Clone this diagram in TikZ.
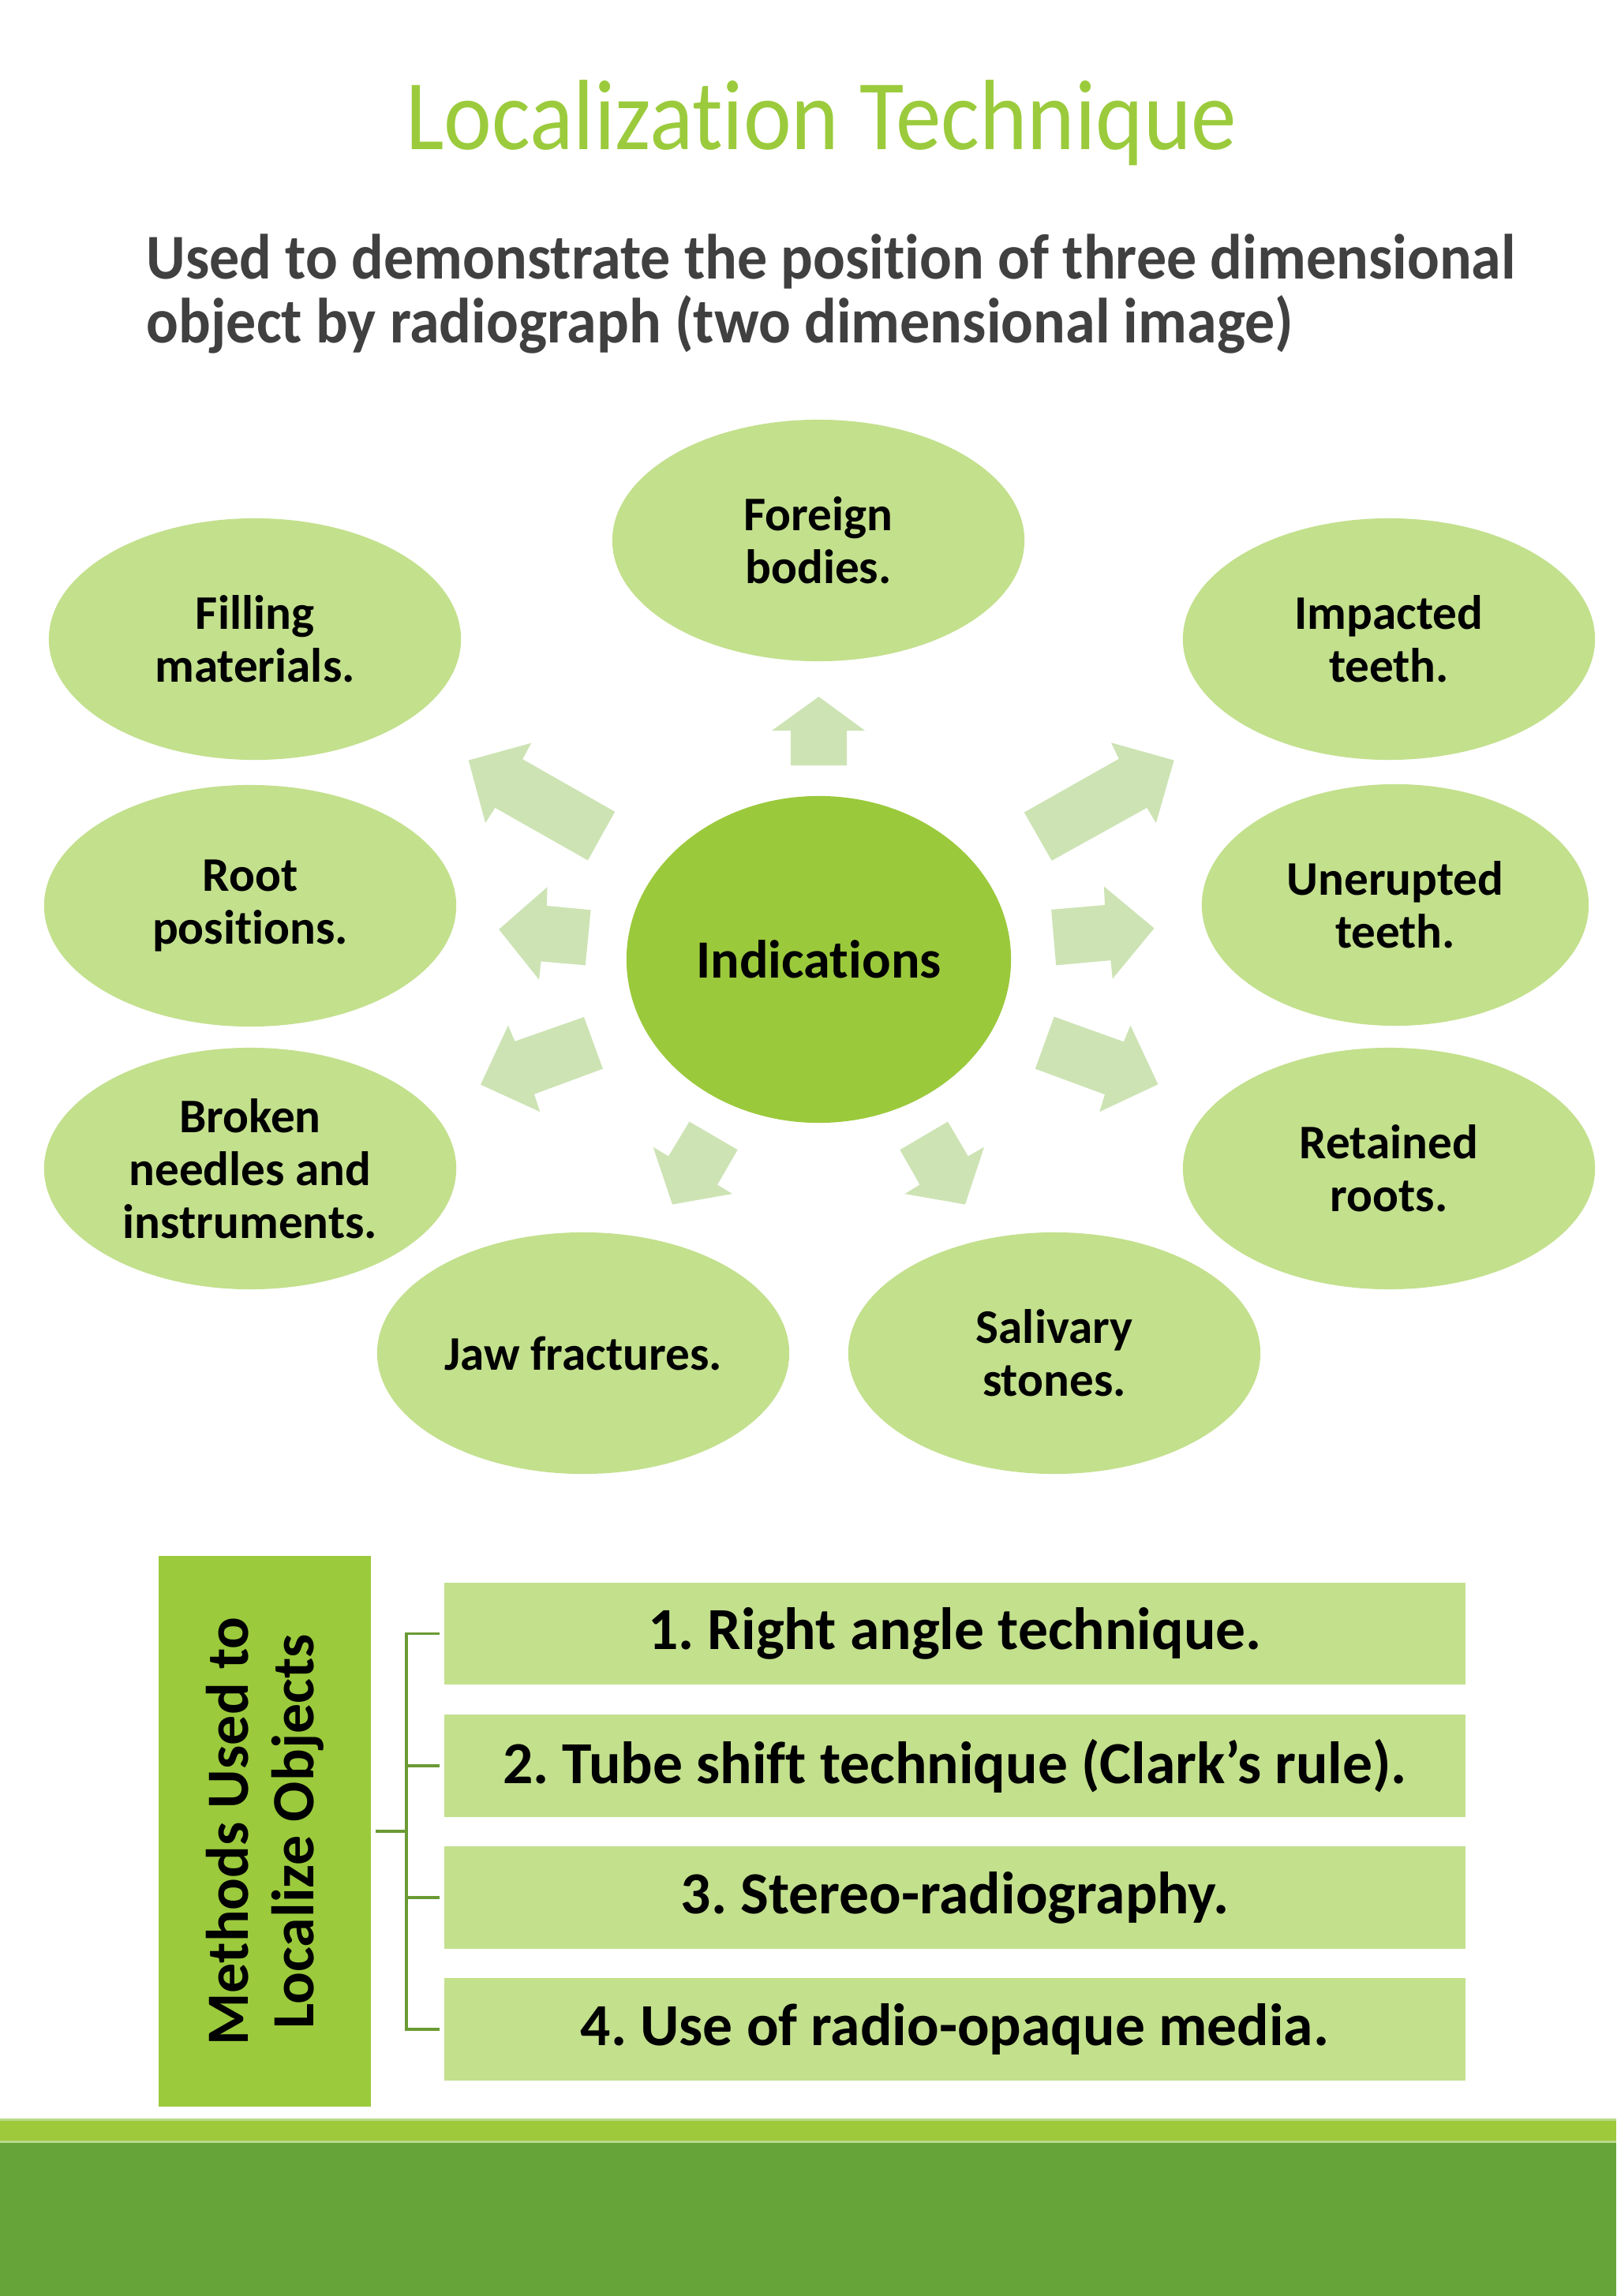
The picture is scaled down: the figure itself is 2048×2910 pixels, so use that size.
\documentclass[tikz,border=0pt]{standalone}
\usepackage{fontspec}
\setmainfont[Ligatures=NoCommon]{Carlito}
\usetikzlibrary{shapes.geometric}
\frenchspacing
\definecolor{titlegreen}{HTML}{9BCB3C}
\definecolor{subgray}{HTML}{404040}
\definecolor{ovalfill}{HTML}{C3E08D}
\definecolor{centerfill}{HTML}{9BC93C}
\definecolor{arrowfill}{HTML}{CDE3B4}
\definecolor{itemfill}{HTML}{C3E08D}
\definecolor{methfill}{HTML}{9BCA3C}
\definecolor{connline}{HTML}{6A9A34}
\definecolor{bandlight}{HTML}{9DC93B}
\definecolor{bandpale}{HTML}{B9DA8A}
\definecolor{banddark}{HTML}{66A338}
\tikzset{
  oval/.style={ellipse, fill=ovalfill, inner sep=0pt, minimum width=5.22cm, minimum height=3.06cm,
     align=center, font=\bfseries\fontsize{17.4}{19}\selectfont},
  centeroval/.style={ellipse, fill=centerfill, inner sep=0pt, minimum width=4.87cm, minimum height=4.14cm,
     font=\bfseries\fontsize{19.4}{22}\selectfont},
  blockarrow/.style={fill=arrowfill, draw=none},
  itembox/.style={rectangle, fill=itemfill, inner sep=0pt, minimum width=12.94cm, minimum height=1.29cm,
     font=\bfseries\fontsize{21.5}{24}\selectfont},
  methbox/.style={rectangle, fill=methfill, inner sep=0pt, rotate=90, minimum width=6.98cm, minimum height=2.69cm,
     align=center, font=\bfseries\fontsize{21.6}{23.6}\selectfont},
  conn/.style={draw=connline, line width=1.1pt},
  subline/.style={anchor=base west, text=subgray, inner sep=0pt, font=\bfseries\fontsize{23}{27}\selectfont}
}
\begin{document}
\begin{tikzpicture}[x=0.01cm, y=-0.01cm]
\useasboundingbox (0,0) rectangle (2048,2910);
\fill[white] (0,0) rectangle (2048,2910);

% title and subtitle
\node[anchor=base, text=titlegreen, inner sep=0pt, font=\fontsize{36}{42}\selectfont] (title) at (1041,190) {\scalebox{0.91}[1]{Localization Technique}};
\node[subline] (sub1) at (185,354) {\scalebox{0.94}[1]{Used to demonstrate the position of three dimensional}};
\node[subline] (sub2) at (185,435) {\scalebox{0.94}[1]{object by radiograph (two dimensional image)}};

% block arrows
\fill[blockarrow] (1037.5,883) -- (1096,926) -- (1073,926) -- (1073,970) -- (1002,970) -- (1002,926) -- (978,926) -- cycle;
\fill[blockarrow] (593.7,963.6) -- (673.3,941.7) -- (662.2,962.2) -- (779.2,1028.8) -- (744.9,1090.4) -- (627.3,1023.8) -- (615.1,1043) -- cycle;
\fill[blockarrow] (1487.6,963.6) -- (1408,941.3) -- (1417.8,961.8) -- (1297.8,1029.6) -- (1332.7,1090.8) -- (1453.3,1023.8) -- (1464.9,1043) -- cycle;
\fill[blockarrow] (632.2,1177.9) -- (693.5,1124.3) -- (692.9,1148) -- (748.6,1153.3) -- (741.8,1223.4) -- (685.5,1218.5) -- (683.1,1241.7) -- cycle;
\fill[blockarrow] (1462.5,1176.5) -- (1398.8,1123.4) -- (1400,1147) -- (1332.1,1152.9) -- (1338.2,1223.4) -- (1407.4,1217.1) -- (1409.8,1240.4) -- cycle;
\fill[blockarrow] (609,1374.7) -- (643.9,1299.7) -- (652.4,1319.8) -- (740,1289) -- (763.9,1354.6) -- (676.9,1386.8) -- (684.3,1409.1) -- cycle;
\fill[blockarrow] (1467.4,1374.3) -- (1432.5,1299.7) -- (1423.9,1320.3) -- (1335.7,1288.6) -- (1311.8,1354.6) -- (1400,1387.2) -- (1393.3,1409.1) -- cycle;
\fill[blockarrow] (852,1526.5) -- (827.6,1453.8) -- (847.1,1465.4) -- (873.5,1421.6) -- (934.7,1457.3) -- (909,1501.5) -- (928,1513.1) -- cycle;
\fill[blockarrow] (1223,1526.5) -- (1247,1453.8) -- (1226.7,1465.4) -- (1201,1421.6) -- (1140.4,1457.3) -- (1165.5,1501.5) -- (1146.5,1513.1) -- cycle;

% ovals
\node[centeroval] (ind) at (1037.5,1216) {Indications};
\node[oval] (foreign) at (1037,685) {Foreign\\bodies.};
\node[oval] (filling) at (323,810) {Filling\\materials.};
\node[oval] (impacted) at (1760,810) {Impacted\\teeth.};
\node[oval] (root) at (317,1148) {Root\\positions.};
\node[oval, minimum width=4.9cm] (unerupted) at (1768,1147) {Unerupted\\teeth.};
\node[oval] (broken) at (317,1481) {Broken\\needles and\\instruments.};
\node[oval] (retained) at (1760,1481) {Retained\\roots.};
\node[oval] (jaw) at (739,1715) {Jaw fractures.};
\node[oval] (salivary) at (1336,1715) {Salivary\\stones.};

% methods section
\node[methbox] (meth) at (335.5,2321) {Methods Used to\\Localize Objects};
\node[itembox] (i1) at (1210,2070.5) {1. Right angle technique.};
\node[itembox] (i2) at (1210,2238) {2. Tube shift technique (Clark’s rule).};
\node[itembox] (i3) at (1210,2405) {3. Stereo-radiography.};
\node[itembox] (i4) at (1210,2572) {4. Use of radio-opaque media.};
\coordinate (bx) at (515,2321);
\draw[conn] ([xshift=0.05cm]meth.south) -- (bx);
\draw[conn] ([xshift=-0.05cm]i1.west) -| (bx);
\draw[conn] ([xshift=-0.05cm]i2.west) -| (bx);
\draw[conn] ([xshift=-0.05cm]i3.west) -| (bx);
\draw[conn] ([xshift=-0.05cm]i4.west) -| (bx);

% bottom bands
\fill[bandpale] (0,2685) rectangle (2048,2688);
\fill[bandlight] (0,2688) rectangle (2048,2713);
\fill[bandpale] (0,2713) rectangle (2048,2716);
\fill[banddark] (0,2716) rectangle (2048,2910);
\end{tikzpicture}
\end{document}
